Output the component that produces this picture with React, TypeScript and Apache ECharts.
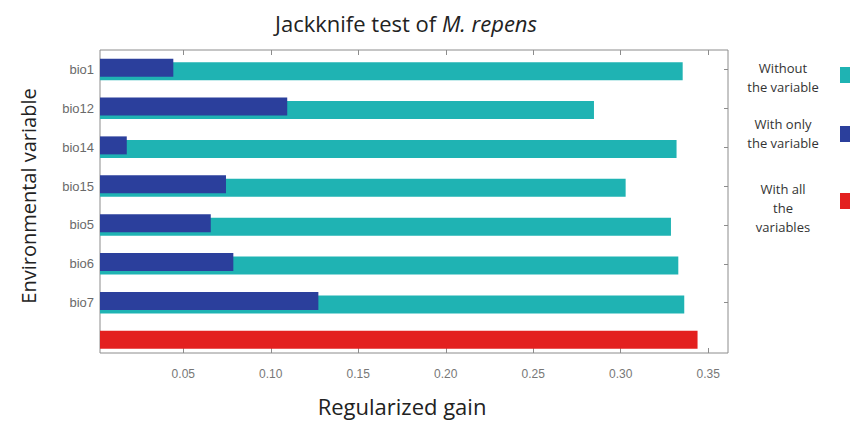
import React, { useEffect, useRef } from "react";
import * as echarts from "echarts";

const categories = ["bio1", "bio12", "bio14", "bio15", "bio5", "bio6", "bio7", ""];
const withoutVariable = [0.3354, 0.2847, 0.3319, 0.3028, 0.3287, 0.3329, 0.3363];
const withOnlyVariable = [0.0443, 0.1094, 0.0177, 0.0744, 0.0657, 0.0786, 0.1272];
const withAllVariables = 0.3439;
const tickValues = [0.05, 0.1, 0.15, 0.2, 0.25, 0.3, 0.35];
const legendLabels = [
  ["Without", "the variable"],
  ["With only", "the variable"],
  ["With all", "the", "variables"],
];

const CYAN = "#1fb3b3";
const NAVY = "#2b3f9c";
const RED = "#e3201f";
const AXIS_MIN = 0.0024;
const AXIS_MAX = 0.3613;
const FONT = "'Open Sans', sans-serif";

export default function App() {
  const ref = useRef<HTMLDivElement>(null);
  useEffect(() => {
    if (!ref.current) return;
    const chart = echarts.init(ref.current, null, { renderer: "svg" });
    const legendColors = [CYAN, NAVY, RED];
    const legendTextY = [67, 123, 188];
    const legendBoxY = [67, 126, 193];
    const graphics: any[] = [
      {
        type: "text",
        x: 406,
        y: 23,
        style: {
          text: "{n|Jackknife test of }{i|M. repens}",
          align: "center",
          verticalAlign: "middle",
          rich: {
            n: { fontSize: 22, fontFamily: FONT, fill: "#222" },
            i: { fontSize: 22, fontFamily: FONT, fill: "#222", fontStyle: "italic" },
          },
        },
      },
      {
        type: "text",
        x: 28,
        y: 196,
        rotation: Math.PI / 2,
        style: {
          text: "Environmental variable",
          fontSize: 20,
          fontFamily: FONT,
          fill: "#222",
          align: "center",
          verticalAlign: "middle",
        },
      },
      {
        type: "text",
        x: 402,
        y: 406,
        style: {
          text: "Regularized gain",
          fontSize: 22,
          fontFamily: FONT,
          fill: "#222",
          align: "center",
          verticalAlign: "middle",
        },
      },
    ];
    legendLabels.forEach((lines, i) => {
      graphics.push({
        type: "text",
        x: 783,
        y: legendTextY[i] - 9,
        style: {
          text: lines.join("\n"),
          fontSize: 13,
          lineHeight: 19,
          fontFamily: FONT,
          fill: "#333",
          align: "center",
          verticalAlign: "top",
        },
      });
      graphics.push({
        type: "rect",
        shape: { x: 840, y: legendBoxY[i], width: 12, height: 16 },
        style: { fill: legendColors[i] },
      });
    });

    chart.setOption({
      animation: false,
      grid: [
        { left: 100, right: 122, top: 50, bottom: 60 },
        {
          left: 100,
          right: 122,
          top: 50,
          bottom: 68,
          show: true,
          borderColor: "#8c8c8c",
          borderWidth: 1,
        },
      ],
      xAxis: [
        { gridIndex: 0, type: "value", min: AXIS_MIN, max: AXIS_MAX, show: false },
        {
          gridIndex: 1,
          type: "value",
          position: "bottom",
          min: AXIS_MIN,
          max: AXIS_MAX,
          axisLine: { show: false },
          splitLine: { show: false },
          axisTick: {
            show: true,
            inside: true,
            length: 5,
            customValues: tickValues,
            lineStyle: { color: "#8c8c8c" },
          },
          axisLabel: {
            customValues: tickValues,
            margin: 15,
            color: "#777",
            fontSize: 12,
            fontFamily: "'Liberation Sans', Arial, sans-serif",
            formatter: (v: number) => v.toFixed(2),
          },
        },
        {
          gridIndex: 1,
          type: "value",
          position: "top",
          min: AXIS_MIN,
          max: AXIS_MAX,
          axisLine: { show: false },
          splitLine: { show: false },
          axisTick: {
            show: true,
            inside: true,
            length: 5,
            customValues: tickValues,
            lineStyle: { color: "#8c8c8c" },
          },
          axisLabel: { show: false },
        },
      ],
      yAxis: [
        {
          gridIndex: 0,
          type: "category",
          data: categories,
          inverse: true,
          position: "left",
          axisLine: { show: false },
          axisTick: { show: false },
          axisLabel: {
            margin: 6,
            color: "#6a6a6a",
            fontSize: 13,
            fontFamily: "'Liberation Sans', Arial, sans-serif",
          },
        },
        {
          gridIndex: 0,
          type: "category",
          data: categories,
          inverse: true,
          position: "right",
          axisLine: { show: false },
          axisLabel: { show: false },
          axisTick: {
            show: true,
            inside: true,
            length: 4,
            alignWithLabel: true,
            interval: (index: number) => index < withoutVariable.length,
            lineStyle: { color: "#8c8c8c" },
          },
        },
        { gridIndex: 1, type: "value", show: false },
      ],
      series: [
        {
          name: "With only the variable",
          type: "bar",
          xAxisIndex: 0,
          yAxisIndex: 0,
          barWidth: 18,
          barGap: "-80%",
          z: 3,
          itemStyle: { color: NAVY },
          data: [
            ...withOnlyVariable,
            { value: withAllVariables, itemStyle: { color: RED } },
          ],
        },
        {
          name: "Without the variable",
          type: "bar",
          xAxisIndex: 0,
          yAxisIndex: 0,
          barWidth: 18,
          z: 2,
          itemStyle: { color: CYAN },
          data: [...withoutVariable, "-"],
        },
      ],
      graphic: graphics,
    });
    return () => chart.dispose();
  }, []);
  return (
    <div
      ref={ref}
      style={{ position: "fixed", left: 0, top: 0, width: 850, height: 421, background: "#fff" }}
    />
  );
}
